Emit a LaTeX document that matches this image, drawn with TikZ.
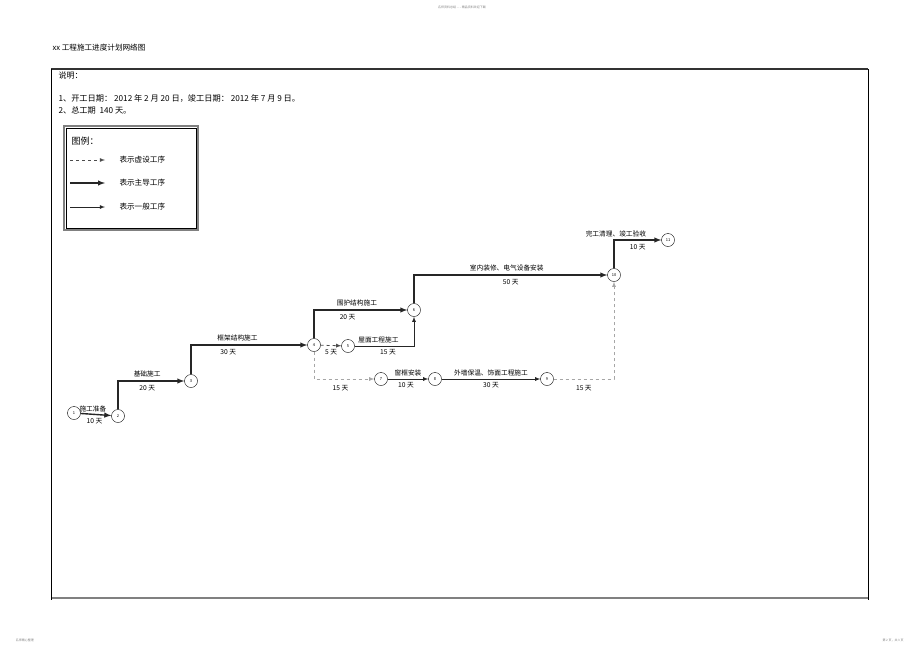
\documentclass[tikz,border=0pt]{standalone}
\usepackage{fontspec}
\setmainfont{Noto Sans CJK SC}
\usetikzlibrary{arrows}
\begin{document}
\begin{tikzpicture}[x=1pt,y=-1pt,>=latex,
		every node/.style={font=\fontsize{6.7}{7}\selectfont,text=black},
		evt/.style={circle,draw,fill=white,minimum size=13pt,inner sep=0pt,font=\fontsize{4}{4}\selectfont},
		main/.style={line width=1.4pt,->,black!85},
		norm/.style={line width=0.8pt,->,black!85},
		dummy/.style={dashed,line width=0.8pt,->,gray}]
		\useasboundingbox (0,0) rectangle (920,651);
		% page marks
		\node[text=gray,font=\fontsize{3}{3}\selectfont] (hd) at (462,7) {名师资料总结 - - - 精品资料欢迎下载};
		\node[text=gray,font=\fontsize{3}{3}\selectfont] (ftl) at (25,640) {名师精心整理};
		\node[text=gray,font=\fontsize{3}{3}\selectfont] (ftr) at (893,640) {第 2 页，共 3 页};
		% title and frame
		\node[anchor=west,font=\fontsize{7.6}{8}\selectfont] (title) at (49,48) {xx 工程施工进度计划网络图};
		\draw [line width=1.2pt, black!80] (51,69) -- (868,69);
		\draw [line width=1.6pt, gray] (51,598) -- (868,598);
		\draw [line width=0.7pt] (51,69) -- (51,600);
		\draw [line width=0.7pt] (868,69) -- (868,600);
		\node[anchor=west,font=\fontsize{8}{9}\selectfont] (note) at (55,75) {说明：};
		\node[anchor=west,font=\fontsize{8.2}{9}\selectfont] (l1) at (55,98) {1、开工日期： 2012 年 2 月 20 日，竣工日期： 2012 年 7 月 9 日。};
		\node[anchor=west,font=\fontsize{8.2}{9}\selectfont] (l2) at (55,110) {2、总工期 \ 140 天。};
		% legend
		\draw [line width=1.6pt, gray] (64,126) rectangle (198,230);
		\draw [line width=0.5pt] (66,128) rectangle (196,228);
		\node[anchor=west,font=\fontsize{9}{10}\selectfont] (lg) at (68,141) {图例：};
		\coordinate (a1) at (70,160); \coordinate (b1) at (105,160);
		\coordinate (a2) at (70,183); \coordinate (b2) at (105,183);
		\coordinate (a3) at (70,207); \coordinate (b3) at (105,207);
		\draw [dummy, black!70] (a1) -- (b1);
		\draw [main] (a2) -- (b2);
		\draw [norm] (a3) -- (b3);
		\node[anchor=west,font=\fontsize{7.6}{8}\selectfont] at (116,160) {表示虚设工序};
		\node[anchor=west,font=\fontsize{7.6}{8}\selectfont] at (116,183) {表示主导工序};
		\node[anchor=west,font=\fontsize{7.6}{8}\selectfont] at (116,207) {表示一般工序};
		% events
		\node[evt] (n1) at (74,413) {1};
		\node[evt] (n2) at (118,416) {2};
		\node[evt] (n3) at (191,381) {3};
		\node[evt] (n4) at (314,345) {4};
		\node[evt] (n5) at (348,346) {5};
		\node[evt] (n6) at (414,310) {6};
		\node[evt] (n7) at (381,379) {7};
		\node[evt] (n8) at (435,379) {8};
		\node[evt] (n9) at (547,379) {9};
		\node[evt] (n10) at (614,275) {10};
		\node[evt] (n11) at (668,240) {11};
		% activities
		\draw [main] (n1) -- (n2) node [pos=0.4, above=-1.5pt] {施工准备} node [pos=0.45, below] {10 天};
		\draw [main] (n2) |- (n3) node [pos=0.72, above=-0.5pt] {基础施工} node [pos=0.72, below] {20 天};
		\draw [main] (n3) |- (n4) node [pos=0.7, above=-0.5pt] {框架结构施工} node [pos=0.66, below] {30 天};
		\draw [main] (n4) |- (n6) node [pos=0.73, above=-0.5pt] {围护结构施工} node [pos=0.68, below] {20 天};
		\draw [dummy, black!70] (n4) -- (n5) node [pos=0.5, below] {5 天};
		\draw [norm] (n5) -| (n6) node [pos=0.2, above=-0.5pt] {屋面工程施工} node [pos=0.28, below] {15 天};
		\draw [dummy, black!35] (n4) |- (n7) node [pos=0.72, below=3pt] {15 天};
		\draw [norm] (n7) -- (n8) node [pos=0.5, above=-0.5pt] {窗框安装} node [pos=0.45, below] {10 天};
		\draw [norm] (n8) -- (n9) node [pos=0.5, above=-0.5pt] {外墙保温、饰面工程施工} node [pos=0.5, below] {30 天};
		\draw [dummy, black!35] (n9) -| (n10) node [pos=0.25, below=3pt] {15 天};
		\draw [main] (n6) |- (n10) node [pos=0.74, above=-0.5pt] {室内装修、电气设备安装} node [pos=0.75, below] {50 天};
		\draw [main] (n10) |- (n11) node [pos=0.52, above=-1pt] {完工清理、竣工验收} node [pos=0.75, below] {10 天};
	\end{tikzpicture}
\end{document}
